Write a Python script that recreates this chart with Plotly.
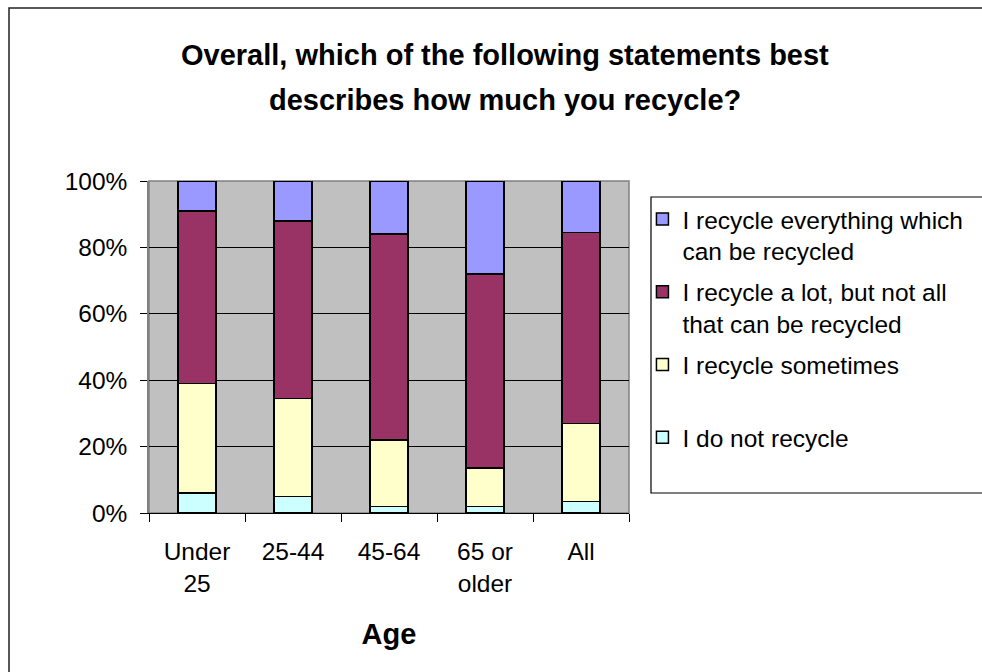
import plotly.graph_objects as go

# survey shares by age group, percent of respondents
age_groups = ['Under<br>25', '25-44', '45-64', '65 or<br>older', 'All']
do_not = [6, 5, 2, 2, 3.5]
sometimes = [33, 29.5, 20, 11.5, 23.5]
a_lot = [52, 53.5, 62, 58.5, 57.5]
everything = [9, 12, 16, 28, 15.5]

y_ticks = [0, 20, 40, 60, 80, 100]
y_tick_text = ['0%', '20%', '40%', '60%', '80%', '100%']

title_lines = ['Overall, which of the following statements best',
               'describes how much you recycle?']

# stacked bottom to top; legend lists them top to bottom
series = [
    ('I do not recycle<br>&nbsp;', do_not, '#CCFFFF'),
    ('I recycle sometimes<br>&nbsp;', sometimes, '#FFFFCC'),
    ('I recycle a lot, but not all<br>that can be recycled', a_lot, '#993366'),
    ('I recycle everything which<br>can be recycled', everything, '#9999FF'),
]

FONT = 'Liberation Sans, Arial, sans-serif'

fig = go.Figure()
for i, (name, vals, color) in enumerate(series):
    fig.add_trace(go.Bar(
        x=age_groups,
        y=vals,
        name=name,
        legendgroup=str(i),
        legendrank=len(series) - i,
        marker=dict(color=color, line=dict(color='black', width=1.5)),
    ))

# the two title lines sit further apart than a plotly <br> would put them
for line, ypix in zip(title_lines, [55, 100]):
    fig.add_annotation(
        text=f'<b>{line}</b>', showarrow=False,
        xref='paper', yref='paper',
        x=(505 - 149) / 480, y=(513 - ypix) / 332,
        xanchor='center', yanchor='middle',
        font=dict(size=29),
    )

fig.update_layout(
    width=982,
    height=672,
    barmode='stack',
    bargap=0.6,
    paper_bgcolor='white',
    plot_bgcolor='#C0C0C0',
    margin=dict(l=149, r=353, t=181, b=159),
    font=dict(family=FONT, size=24.5, color='black'),
    legend=dict(
        x=1.028, xanchor='left',
        y=0.953, yanchor='top',
        traceorder='grouped',
        tracegroupgap=6,
        valign='top',
        bgcolor='rgba(0,0,0,0)',
        font=dict(size=24.5),
    ),
    xaxis=dict(
        showline=True, linecolor='black', linewidth=1,
        ticks='outside', tickson='boundaries', ticklen=8, tickcolor='black',
        ticklabelstandoff=17,
        title=dict(text='<b>Age</b>', standoff=27),
    ),
    yaxis=dict(
        range=[0, 100],
        tickvals=y_ticks,
        ticktext=y_tick_text,
        showline=True, linecolor='#808080', linewidth=1.5,
        ticks='outside', ticklen=7, tickcolor='black',
        ticklabelstandoff=8,
        showgrid=True, gridcolor='black', gridwidth=1,
        zeroline=False,
    ),
    shapes=[
        # plot area frame
        dict(type='rect', xref='x domain', yref='y domain', x0=0, x1=1, y0=0, y1=1,
             line=dict(color='#808080', width=1.5), layer='below'),
        # legend box, runs off the right edge like the original
        dict(type='rect', xref='paper', yref='paper',
             x0=(651 - 149) / 480, x1=(1000 - 149) / 480,
             y0=(513 - 493) / 332, y1=(513 - 197) / 332,
             line=dict(color='black', width=1.2)),
        # chart border
        dict(type='rect', xref='paper', yref='paper',
             x0=(9 - 149) / 480, x1=(1010 - 149) / 480,
             y0=(513 - 690) / 332, y1=(513 - 8) / 332,
             line=dict(color='#222222', width=1.5)),
    ],
)

fig.write_html("out.html", config={'displayModeBar': False},
               post_script="document.body.style.margin='0px';")
